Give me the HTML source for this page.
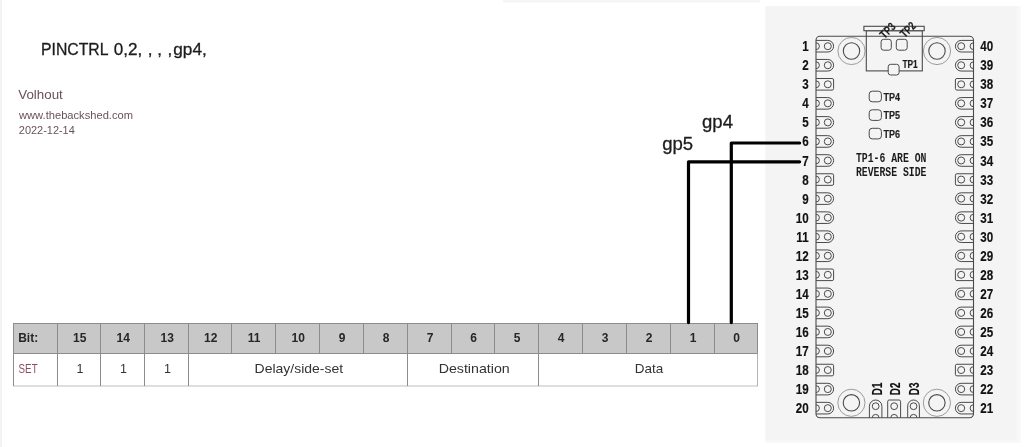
<!DOCTYPE html>
<html><head><meta charset="utf-8"><style>
html,body{margin:0;padding:0;background:#fff;}
body{width:1024px;height:447px;position:relative;overflow:hidden;}
svg{position:absolute;left:0;top:0;will-change:transform;}
text{font-family:"Liberation Sans",sans-serif;}
.t{font-weight:normal;}
.tb{font-size:12px;font-weight:bold;}
.pl{font-size:14px;font-weight:bold;fill:#111;stroke:#111;stroke-width:0.15;}
.pl2{font-size:14px;font-weight:bold;fill:#111;stroke:#111;stroke-width:0.15;}
.tp{font-size:11px;font-weight:bold;fill:#1e1e1e;stroke:#1e1e1e;stroke-width:0.2;}
.mono{font-family:"Liberation Mono",monospace;font-size:12px;font-weight:bold;fill:#1a1a1a;}
</style></head><body>
<svg width="1024" height="447" viewBox="0 0 1024 447">
<rect x="0" y="0" width="2" height="447" fill="#f3f3f3"/>
<rect x="503" y="0" width="257" height="2.5" fill="#f5f5f5"/>
<text x="41" y="55" class="t" style="font-size:17px" fill="#1c1c1c" stroke="#1c1c1c" stroke-width="0.3" textLength="67.5" lengthAdjust="spacingAndGlyphs">PINCTRL</text>
<text x="113.8" y="55" class="t" style="font-size:17px" fill="#1c1c1c" stroke="#1c1c1c" stroke-width="0.3" textLength="28.5" lengthAdjust="spacingAndGlyphs">0,2,</text>
<text x="147.7" y="55" class="t" style="font-size:17px" fill="#1c1c1c" stroke="#1c1c1c" stroke-width="0.3">,</text>
<text x="157.3" y="55" class="t" style="font-size:17px" fill="#1c1c1c" stroke="#1c1c1c" stroke-width="0.3">,</text>
<text x="167.6" y="55" class="t" style="font-size:17px" fill="#1c1c1c" stroke="#1c1c1c" stroke-width="0.3">,</text>
<text x="173.3" y="55" class="t" style="font-size:17px" fill="#1c1c1c" stroke="#1c1c1c" stroke-width="0.3" textLength="33.5" lengthAdjust="spacingAndGlyphs">gp4,</text>
<text x="18.3" y="99" class="t" style="font-size:13px" fill="#6a5258" textLength="44.5" lengthAdjust="spacingAndGlyphs">Volhout</text>
<text x="19" y="119" class="t" style="font-size:11px" fill="#6a5258" textLength="114" lengthAdjust="spacingAndGlyphs">www.thebackshed.com</text>
<text x="18.8" y="134" class="t" style="font-size:11px" fill="#6a5258" textLength="56" lengthAdjust="spacingAndGlyphs">2022-12-14</text>
<text x="702" y="128.3" class="t" style="font-size:18px" fill="#1c1c1c" stroke="#1c1c1c" stroke-width="0.3" textLength="31" lengthAdjust="spacingAndGlyphs">gp4</text>
<text x="662.2" y="150.3" class="t" style="font-size:18px" fill="#1c1c1c" stroke="#1c1c1c" stroke-width="0.3" textLength="31" lengthAdjust="spacingAndGlyphs">gp5</text>
<rect x="13.5" y="323.5" width="744.00" height="30.00" fill="#c8c8c8"/>
<rect x="13.5" y="353.5" width="744.00" height="32.50" fill="#fff"/>
<path d="M13.0 323.5 H758.0" stroke="#8c8c8c" stroke-width="1"/>
<path d="M13.0 353.5 H758.0" stroke="#8c8c8c" stroke-width="1"/>
<path d="M13.0 386.0 H758.0" stroke="#bdbdbd" stroke-width="1"/>
<path d="M13.5 323.5 V353.5" stroke="#8c8c8c" stroke-width="1"/>
<path d="M57.5 323.5 V353.5" stroke="#8c8c8c" stroke-width="1"/>
<path d="M100.5 323.5 V353.5" stroke="#8c8c8c" stroke-width="1"/>
<path d="M144.5 323.5 V353.5" stroke="#8c8c8c" stroke-width="1"/>
<path d="M188.5 323.5 V353.5" stroke="#8c8c8c" stroke-width="1"/>
<path d="M231.5 323.5 V353.5" stroke="#8c8c8c" stroke-width="1"/>
<path d="M275.5 323.5 V353.5" stroke="#8c8c8c" stroke-width="1"/>
<path d="M319.5 323.5 V353.5" stroke="#8c8c8c" stroke-width="1"/>
<path d="M363.5 323.5 V353.5" stroke="#8c8c8c" stroke-width="1"/>
<path d="M407.5 323.5 V353.5" stroke="#8c8c8c" stroke-width="1"/>
<path d="M451.5 323.5 V353.5" stroke="#8c8c8c" stroke-width="1"/>
<path d="M494.5 323.5 V353.5" stroke="#8c8c8c" stroke-width="1"/>
<path d="M538.5 323.5 V353.5" stroke="#8c8c8c" stroke-width="1"/>
<path d="M582.5 323.5 V353.5" stroke="#8c8c8c" stroke-width="1"/>
<path d="M626.5 323.5 V353.5" stroke="#8c8c8c" stroke-width="1"/>
<path d="M670.5 323.5 V353.5" stroke="#8c8c8c" stroke-width="1"/>
<path d="M714.5 323.5 V353.5" stroke="#8c8c8c" stroke-width="1"/>
<path d="M757.5 323.5 V353.5" stroke="#8c8c8c" stroke-width="1"/>
<path d="M13.5 353.5 V386.0" stroke="#8c8c8c" stroke-width="1"/>
<path d="M57.5 353.5 V386.0" stroke="#8c8c8c" stroke-width="1"/>
<path d="M100.5 353.5 V386.0" stroke="#8c8c8c" stroke-width="1"/>
<path d="M144.5 353.5 V386.0" stroke="#8c8c8c" stroke-width="1"/>
<path d="M188.5 353.5 V386.0" stroke="#8c8c8c" stroke-width="1"/>
<path d="M407.5 353.5 V386.0" stroke="#8c8c8c" stroke-width="1"/>
<path d="M538.5 353.5 V386.0" stroke="#8c8c8c" stroke-width="1"/>
<path d="M757.5 353.5 V386.0" stroke="#b4b4b4" stroke-width="1"/>
<text x="18.2" y="342" class="tb" fill="#262626">Bit:</text>
<text x="79.70" y="342" class="tb" fill="#262626" text-anchor="middle">15</text>
<text x="123.20" y="342" class="tb" fill="#262626" text-anchor="middle">14</text>
<text x="167.20" y="342" class="tb" fill="#262626" text-anchor="middle">13</text>
<text x="210.70" y="342" class="tb" fill="#262626" text-anchor="middle">12</text>
<text x="254.20" y="342" class="tb" fill="#262626" text-anchor="middle">11</text>
<text x="298.20" y="342" class="tb" fill="#262626" text-anchor="middle">10</text>
<text x="342.20" y="342" class="tb" fill="#262626" text-anchor="middle">9</text>
<text x="386.20" y="342" class="tb" fill="#262626" text-anchor="middle">8</text>
<text x="430.20" y="342" class="tb" fill="#262626" text-anchor="middle">7</text>
<text x="473.70" y="342" class="tb" fill="#262626" text-anchor="middle">6</text>
<text x="517.20" y="342" class="tb" fill="#262626" text-anchor="middle">5</text>
<text x="561.20" y="342" class="tb" fill="#262626" text-anchor="middle">4</text>
<text x="605.20" y="342" class="tb" fill="#262626" text-anchor="middle">3</text>
<text x="649.20" y="342" class="tb" fill="#262626" text-anchor="middle">2</text>
<text x="693.20" y="342" class="tb" fill="#262626" text-anchor="middle">1</text>
<text x="736.70" y="342" class="tb" fill="#262626" text-anchor="middle">0</text>
<text x="18.6" y="373" class="t" style="font-size:12.5px" fill="#8c4c61" textLength="19" lengthAdjust="spacingAndGlyphs">SET</text>
<text x="80.00" y="373" class="t" style="font-size:12.5px" fill="#333" text-anchor="middle">1</text>
<text x="123.50" y="373" class="t" style="font-size:12.5px" fill="#333" text-anchor="middle">1</text>
<text x="167.50" y="373" class="t" style="font-size:12.5px" fill="#333" text-anchor="middle">1</text>
<text x="254.6" y="373" class="t" style="font-size:13px" fill="#333" textLength="88.5" lengthAdjust="spacingAndGlyphs">Delay/side-set</text>
<text x="438.7" y="373" class="t" style="font-size:13px" fill="#333" textLength="71" lengthAdjust="spacingAndGlyphs">Destination</text>
<text x="634.8" y="373" class="t" style="font-size:13px" fill="#333" textLength="28.5" lengthAdjust="spacingAndGlyphs">Data</text>
<rect x="765.5" y="6" width="255" height="437" fill="#f8f8f8"/>
<rect x="765.5" y="6" width="251" height="434.5" fill="#f4f4f4"/>
<rect x="816.0" y="36.2" width="157.5" height="381.6" rx="4" fill="none" stroke="#4a4a4a" stroke-width="1.1"/>
<path d="M816.0 40.40 H827.80 A5.8 5.8 0 0 1 827.80 52.00 H816.0" fill="none" stroke="#4a4a4a" stroke-width="1"/>
<circle cx="827.80" cy="46.20" r="3.5" fill="none" stroke="#4a4a4a" stroke-width="1"/>
<path d="M816.0 42.80 A3.4 3.4 0 0 1 816.0 49.60" fill="none" stroke="#4a4a4a" stroke-width="1"/>
<path d="M973.5 40.40 H961.20 A5.8 5.8 0 0 0 961.20 52.00 H973.5" fill="none" stroke="#4a4a4a" stroke-width="1"/>
<circle cx="961.20" cy="46.20" r="3.5" fill="none" stroke="#4a4a4a" stroke-width="1"/>
<path d="M973.5 42.80 A3.4 3.4 0 0 0 973.5 49.60" fill="none" stroke="#4a4a4a" stroke-width="1"/>
<text x="0" y="0" class="pl" text-anchor="end" transform="translate(808.6 51.20) scale(0.83 1)">1</text>
<text x="0" y="0" class="pl" transform="translate(980.2 51.20) scale(0.83 1)">40</text>
<path d="M816.0 59.45 H827.80 A5.8 5.8 0 0 1 827.80 71.05 H816.0" fill="none" stroke="#4a4a4a" stroke-width="1"/>
<circle cx="827.80" cy="65.25" r="3.5" fill="none" stroke="#4a4a4a" stroke-width="1"/>
<path d="M816.0 61.85 A3.4 3.4 0 0 1 816.0 68.65" fill="none" stroke="#4a4a4a" stroke-width="1"/>
<path d="M973.5 59.45 H961.20 A5.8 5.8 0 0 0 961.20 71.05 H973.5" fill="none" stroke="#4a4a4a" stroke-width="1"/>
<circle cx="961.20" cy="65.25" r="3.5" fill="none" stroke="#4a4a4a" stroke-width="1"/>
<path d="M973.5 61.85 A3.4 3.4 0 0 0 973.5 68.65" fill="none" stroke="#4a4a4a" stroke-width="1"/>
<text x="0" y="0" class="pl" text-anchor="end" transform="translate(808.6 70.25) scale(0.83 1)">2</text>
<text x="0" y="0" class="pl" transform="translate(980.2 70.25) scale(0.83 1)">39</text>
<path d="M816.0 78.50 H832.10 Q833.6 78.50 833.6 80.00 V88.60 Q833.6 90.10 832.10 90.10 H816.0" fill="none" stroke="#4a4a4a" stroke-width="1"/>
<circle cx="827.80" cy="84.30" r="3.5" fill="none" stroke="#4a4a4a" stroke-width="1"/>
<path d="M816.0 80.90 A3.4 3.4 0 0 1 816.0 87.70" fill="none" stroke="#4a4a4a" stroke-width="1"/>
<path d="M973.5 78.50 H956.90 Q955.4 78.50 955.4 80.00 V88.60 Q955.4 90.10 956.90 90.10 H973.5" fill="none" stroke="#4a4a4a" stroke-width="1"/>
<circle cx="961.20" cy="84.30" r="3.5" fill="none" stroke="#4a4a4a" stroke-width="1"/>
<path d="M973.5 80.90 A3.4 3.4 0 0 0 973.5 87.70" fill="none" stroke="#4a4a4a" stroke-width="1"/>
<text x="0" y="0" class="pl" text-anchor="end" transform="translate(808.6 89.30) scale(0.83 1)">3</text>
<text x="0" y="0" class="pl" transform="translate(980.2 89.30) scale(0.83 1)">38</text>
<path d="M816.0 97.55 H827.80 A5.8 5.8 0 0 1 827.80 109.15 H816.0" fill="none" stroke="#4a4a4a" stroke-width="1"/>
<circle cx="827.80" cy="103.35" r="3.5" fill="none" stroke="#4a4a4a" stroke-width="1"/>
<path d="M816.0 99.95 A3.4 3.4 0 0 1 816.0 106.75" fill="none" stroke="#4a4a4a" stroke-width="1"/>
<path d="M973.5 97.55 H961.20 A5.8 5.8 0 0 0 961.20 109.15 H973.5" fill="none" stroke="#4a4a4a" stroke-width="1"/>
<circle cx="961.20" cy="103.35" r="3.5" fill="none" stroke="#4a4a4a" stroke-width="1"/>
<path d="M973.5 99.95 A3.4 3.4 0 0 0 973.5 106.75" fill="none" stroke="#4a4a4a" stroke-width="1"/>
<text x="0" y="0" class="pl" text-anchor="end" transform="translate(808.6 108.35) scale(0.83 1)">4</text>
<text x="0" y="0" class="pl" transform="translate(980.2 108.35) scale(0.83 1)">37</text>
<path d="M816.0 116.60 H827.80 A5.8 5.8 0 0 1 827.80 128.20 H816.0" fill="none" stroke="#4a4a4a" stroke-width="1"/>
<circle cx="827.80" cy="122.40" r="3.5" fill="none" stroke="#4a4a4a" stroke-width="1"/>
<path d="M816.0 119.00 A3.4 3.4 0 0 1 816.0 125.80" fill="none" stroke="#4a4a4a" stroke-width="1"/>
<path d="M973.5 116.60 H961.20 A5.8 5.8 0 0 0 961.20 128.20 H973.5" fill="none" stroke="#4a4a4a" stroke-width="1"/>
<circle cx="961.20" cy="122.40" r="3.5" fill="none" stroke="#4a4a4a" stroke-width="1"/>
<path d="M973.5 119.00 A3.4 3.4 0 0 0 973.5 125.80" fill="none" stroke="#4a4a4a" stroke-width="1"/>
<text x="0" y="0" class="pl" text-anchor="end" transform="translate(808.6 127.40) scale(0.83 1)">5</text>
<text x="0" y="0" class="pl" transform="translate(980.2 127.40) scale(0.83 1)">36</text>
<path d="M816.0 135.65 H827.80 A5.8 5.8 0 0 1 827.80 147.25 H816.0" fill="none" stroke="#4a4a4a" stroke-width="1"/>
<circle cx="827.80" cy="141.45" r="3.5" fill="none" stroke="#4a4a4a" stroke-width="1"/>
<path d="M816.0 138.05 A3.4 3.4 0 0 1 816.0 144.85" fill="none" stroke="#4a4a4a" stroke-width="1"/>
<path d="M973.5 135.65 H961.20 A5.8 5.8 0 0 0 961.20 147.25 H973.5" fill="none" stroke="#4a4a4a" stroke-width="1"/>
<circle cx="961.20" cy="141.45" r="3.5" fill="none" stroke="#4a4a4a" stroke-width="1"/>
<path d="M973.5 138.05 A3.4 3.4 0 0 0 973.5 144.85" fill="none" stroke="#4a4a4a" stroke-width="1"/>
<text x="0" y="0" class="pl" text-anchor="end" transform="translate(808.6 146.45) scale(0.83 1)">6</text>
<text x="0" y="0" class="pl" transform="translate(980.2 146.45) scale(0.83 1)">35</text>
<path d="M816.0 154.70 H827.80 A5.8 5.8 0 0 1 827.80 166.30 H816.0" fill="none" stroke="#4a4a4a" stroke-width="1"/>
<circle cx="827.80" cy="160.50" r="3.5" fill="none" stroke="#4a4a4a" stroke-width="1"/>
<path d="M816.0 157.10 A3.4 3.4 0 0 1 816.0 163.90" fill="none" stroke="#4a4a4a" stroke-width="1"/>
<path d="M973.5 154.70 H961.20 A5.8 5.8 0 0 0 961.20 166.30 H973.5" fill="none" stroke="#4a4a4a" stroke-width="1"/>
<circle cx="961.20" cy="160.50" r="3.5" fill="none" stroke="#4a4a4a" stroke-width="1"/>
<path d="M973.5 157.10 A3.4 3.4 0 0 0 973.5 163.90" fill="none" stroke="#4a4a4a" stroke-width="1"/>
<text x="0" y="0" class="pl" text-anchor="end" transform="translate(808.6 165.50) scale(0.83 1)">7</text>
<text x="0" y="0" class="pl" transform="translate(980.2 165.50) scale(0.83 1)">34</text>
<path d="M816.0 173.75 H832.10 Q833.6 173.75 833.6 175.25 V183.85 Q833.6 185.35 832.10 185.35 H816.0" fill="none" stroke="#4a4a4a" stroke-width="1"/>
<circle cx="827.80" cy="179.55" r="3.5" fill="none" stroke="#4a4a4a" stroke-width="1"/>
<path d="M816.0 176.15 A3.4 3.4 0 0 1 816.0 182.95" fill="none" stroke="#4a4a4a" stroke-width="1"/>
<path d="M973.5 173.75 H956.90 Q955.4 173.75 955.4 175.25 V183.85 Q955.4 185.35 956.90 185.35 H973.5" fill="none" stroke="#4a4a4a" stroke-width="1"/>
<circle cx="961.20" cy="179.55" r="3.5" fill="none" stroke="#4a4a4a" stroke-width="1"/>
<path d="M973.5 176.15 A3.4 3.4 0 0 0 973.5 182.95" fill="none" stroke="#4a4a4a" stroke-width="1"/>
<text x="0" y="0" class="pl" text-anchor="end" transform="translate(808.6 184.55) scale(0.83 1)">8</text>
<text x="0" y="0" class="pl" transform="translate(980.2 184.55) scale(0.83 1)">33</text>
<path d="M816.0 192.80 H827.80 A5.8 5.8 0 0 1 827.80 204.40 H816.0" fill="none" stroke="#4a4a4a" stroke-width="1"/>
<circle cx="827.80" cy="198.60" r="3.5" fill="none" stroke="#4a4a4a" stroke-width="1"/>
<path d="M816.0 195.20 A3.4 3.4 0 0 1 816.0 202.00" fill="none" stroke="#4a4a4a" stroke-width="1"/>
<path d="M973.5 192.80 H961.20 A5.8 5.8 0 0 0 961.20 204.40 H973.5" fill="none" stroke="#4a4a4a" stroke-width="1"/>
<circle cx="961.20" cy="198.60" r="3.5" fill="none" stroke="#4a4a4a" stroke-width="1"/>
<path d="M973.5 195.20 A3.4 3.4 0 0 0 973.5 202.00" fill="none" stroke="#4a4a4a" stroke-width="1"/>
<text x="0" y="0" class="pl" text-anchor="end" transform="translate(808.6 203.60) scale(0.83 1)">9</text>
<text x="0" y="0" class="pl" transform="translate(980.2 203.60) scale(0.83 1)">32</text>
<path d="M816.0 211.85 H827.80 A5.8 5.8 0 0 1 827.80 223.45 H816.0" fill="none" stroke="#4a4a4a" stroke-width="1"/>
<circle cx="827.80" cy="217.65" r="3.5" fill="none" stroke="#4a4a4a" stroke-width="1"/>
<path d="M816.0 214.25 A3.4 3.4 0 0 1 816.0 221.05" fill="none" stroke="#4a4a4a" stroke-width="1"/>
<path d="M973.5 211.85 H961.20 A5.8 5.8 0 0 0 961.20 223.45 H973.5" fill="none" stroke="#4a4a4a" stroke-width="1"/>
<circle cx="961.20" cy="217.65" r="3.5" fill="none" stroke="#4a4a4a" stroke-width="1"/>
<path d="M973.5 214.25 A3.4 3.4 0 0 0 973.5 221.05" fill="none" stroke="#4a4a4a" stroke-width="1"/>
<text x="0" y="0" class="pl" text-anchor="end" transform="translate(808.6 222.65) scale(0.83 1)">10</text>
<text x="0" y="0" class="pl" transform="translate(980.2 222.65) scale(0.83 1)">31</text>
<path d="M816.0 230.90 H827.80 A5.8 5.8 0 0 1 827.80 242.50 H816.0" fill="none" stroke="#4a4a4a" stroke-width="1"/>
<circle cx="827.80" cy="236.70" r="3.5" fill="none" stroke="#4a4a4a" stroke-width="1"/>
<path d="M816.0 233.30 A3.4 3.4 0 0 1 816.0 240.10" fill="none" stroke="#4a4a4a" stroke-width="1"/>
<path d="M973.5 230.90 H961.20 A5.8 5.8 0 0 0 961.20 242.50 H973.5" fill="none" stroke="#4a4a4a" stroke-width="1"/>
<circle cx="961.20" cy="236.70" r="3.5" fill="none" stroke="#4a4a4a" stroke-width="1"/>
<path d="M973.5 233.30 A3.4 3.4 0 0 0 973.5 240.10" fill="none" stroke="#4a4a4a" stroke-width="1"/>
<text x="0" y="0" class="pl" text-anchor="end" transform="translate(808.6 241.70) scale(0.83 1)">11</text>
<text x="0" y="0" class="pl" transform="translate(980.2 241.70) scale(0.83 1)">30</text>
<path d="M816.0 249.95 H827.80 A5.8 5.8 0 0 1 827.80 261.55 H816.0" fill="none" stroke="#4a4a4a" stroke-width="1"/>
<circle cx="827.80" cy="255.75" r="3.5" fill="none" stroke="#4a4a4a" stroke-width="1"/>
<path d="M816.0 252.35 A3.4 3.4 0 0 1 816.0 259.15" fill="none" stroke="#4a4a4a" stroke-width="1"/>
<path d="M973.5 249.95 H961.20 A5.8 5.8 0 0 0 961.20 261.55 H973.5" fill="none" stroke="#4a4a4a" stroke-width="1"/>
<circle cx="961.20" cy="255.75" r="3.5" fill="none" stroke="#4a4a4a" stroke-width="1"/>
<path d="M973.5 252.35 A3.4 3.4 0 0 0 973.5 259.15" fill="none" stroke="#4a4a4a" stroke-width="1"/>
<text x="0" y="0" class="pl" text-anchor="end" transform="translate(808.6 260.75) scale(0.83 1)">12</text>
<text x="0" y="0" class="pl" transform="translate(980.2 260.75) scale(0.83 1)">29</text>
<path d="M816.0 269.00 H832.10 Q833.6 269.00 833.6 270.50 V279.10 Q833.6 280.60 832.10 280.60 H816.0" fill="none" stroke="#4a4a4a" stroke-width="1"/>
<circle cx="827.80" cy="274.80" r="3.5" fill="none" stroke="#4a4a4a" stroke-width="1"/>
<path d="M816.0 271.40 A3.4 3.4 0 0 1 816.0 278.20" fill="none" stroke="#4a4a4a" stroke-width="1"/>
<path d="M973.5 269.00 H956.90 Q955.4 269.00 955.4 270.50 V279.10 Q955.4 280.60 956.90 280.60 H973.5" fill="none" stroke="#4a4a4a" stroke-width="1"/>
<circle cx="961.20" cy="274.80" r="3.5" fill="none" stroke="#4a4a4a" stroke-width="1"/>
<path d="M973.5 271.40 A3.4 3.4 0 0 0 973.5 278.20" fill="none" stroke="#4a4a4a" stroke-width="1"/>
<text x="0" y="0" class="pl" text-anchor="end" transform="translate(808.6 279.80) scale(0.83 1)">13</text>
<text x="0" y="0" class="pl" transform="translate(980.2 279.80) scale(0.83 1)">28</text>
<path d="M816.0 288.05 H827.80 A5.8 5.8 0 0 1 827.80 299.65 H816.0" fill="none" stroke="#4a4a4a" stroke-width="1"/>
<circle cx="827.80" cy="293.85" r="3.5" fill="none" stroke="#4a4a4a" stroke-width="1"/>
<path d="M816.0 290.45 A3.4 3.4 0 0 1 816.0 297.25" fill="none" stroke="#4a4a4a" stroke-width="1"/>
<path d="M973.5 288.05 H961.20 A5.8 5.8 0 0 0 961.20 299.65 H973.5" fill="none" stroke="#4a4a4a" stroke-width="1"/>
<circle cx="961.20" cy="293.85" r="3.5" fill="none" stroke="#4a4a4a" stroke-width="1"/>
<path d="M973.5 290.45 A3.4 3.4 0 0 0 973.5 297.25" fill="none" stroke="#4a4a4a" stroke-width="1"/>
<text x="0" y="0" class="pl" text-anchor="end" transform="translate(808.6 298.85) scale(0.83 1)">14</text>
<text x="0" y="0" class="pl" transform="translate(980.2 298.85) scale(0.83 1)">27</text>
<path d="M816.0 307.10 H827.80 A5.8 5.8 0 0 1 827.80 318.70 H816.0" fill="none" stroke="#4a4a4a" stroke-width="1"/>
<circle cx="827.80" cy="312.90" r="3.5" fill="none" stroke="#4a4a4a" stroke-width="1"/>
<path d="M816.0 309.50 A3.4 3.4 0 0 1 816.0 316.30" fill="none" stroke="#4a4a4a" stroke-width="1"/>
<path d="M973.5 307.10 H961.20 A5.8 5.8 0 0 0 961.20 318.70 H973.5" fill="none" stroke="#4a4a4a" stroke-width="1"/>
<circle cx="961.20" cy="312.90" r="3.5" fill="none" stroke="#4a4a4a" stroke-width="1"/>
<path d="M973.5 309.50 A3.4 3.4 0 0 0 973.5 316.30" fill="none" stroke="#4a4a4a" stroke-width="1"/>
<text x="0" y="0" class="pl" text-anchor="end" transform="translate(808.6 317.90) scale(0.83 1)">15</text>
<text x="0" y="0" class="pl" transform="translate(980.2 317.90) scale(0.83 1)">26</text>
<path d="M816.0 326.15 H827.80 A5.8 5.8 0 0 1 827.80 337.75 H816.0" fill="none" stroke="#4a4a4a" stroke-width="1"/>
<circle cx="827.80" cy="331.95" r="3.5" fill="none" stroke="#4a4a4a" stroke-width="1"/>
<path d="M816.0 328.55 A3.4 3.4 0 0 1 816.0 335.35" fill="none" stroke="#4a4a4a" stroke-width="1"/>
<path d="M973.5 326.15 H961.20 A5.8 5.8 0 0 0 961.20 337.75 H973.5" fill="none" stroke="#4a4a4a" stroke-width="1"/>
<circle cx="961.20" cy="331.95" r="3.5" fill="none" stroke="#4a4a4a" stroke-width="1"/>
<path d="M973.5 328.55 A3.4 3.4 0 0 0 973.5 335.35" fill="none" stroke="#4a4a4a" stroke-width="1"/>
<text x="0" y="0" class="pl" text-anchor="end" transform="translate(808.6 336.95) scale(0.83 1)">16</text>
<text x="0" y="0" class="pl" transform="translate(980.2 336.95) scale(0.83 1)">25</text>
<path d="M816.0 345.20 H827.80 A5.8 5.8 0 0 1 827.80 356.80 H816.0" fill="none" stroke="#4a4a4a" stroke-width="1"/>
<circle cx="827.80" cy="351.00" r="3.5" fill="none" stroke="#4a4a4a" stroke-width="1"/>
<path d="M816.0 347.60 A3.4 3.4 0 0 1 816.0 354.40" fill="none" stroke="#4a4a4a" stroke-width="1"/>
<path d="M973.5 345.20 H961.20 A5.8 5.8 0 0 0 961.20 356.80 H973.5" fill="none" stroke="#4a4a4a" stroke-width="1"/>
<circle cx="961.20" cy="351.00" r="3.5" fill="none" stroke="#4a4a4a" stroke-width="1"/>
<path d="M973.5 347.60 A3.4 3.4 0 0 0 973.5 354.40" fill="none" stroke="#4a4a4a" stroke-width="1"/>
<text x="0" y="0" class="pl" text-anchor="end" transform="translate(808.6 356.00) scale(0.83 1)">17</text>
<text x="0" y="0" class="pl" transform="translate(980.2 356.00) scale(0.83 1)">24</text>
<path d="M816.0 364.25 H832.10 Q833.6 364.25 833.6 365.75 V374.35 Q833.6 375.85 832.10 375.85 H816.0" fill="none" stroke="#4a4a4a" stroke-width="1"/>
<circle cx="827.80" cy="370.05" r="3.5" fill="none" stroke="#4a4a4a" stroke-width="1"/>
<path d="M816.0 366.65 A3.4 3.4 0 0 1 816.0 373.45" fill="none" stroke="#4a4a4a" stroke-width="1"/>
<path d="M973.5 364.25 H956.90 Q955.4 364.25 955.4 365.75 V374.35 Q955.4 375.85 956.90 375.85 H973.5" fill="none" stroke="#4a4a4a" stroke-width="1"/>
<circle cx="961.20" cy="370.05" r="3.5" fill="none" stroke="#4a4a4a" stroke-width="1"/>
<path d="M973.5 366.65 A3.4 3.4 0 0 0 973.5 373.45" fill="none" stroke="#4a4a4a" stroke-width="1"/>
<text x="0" y="0" class="pl" text-anchor="end" transform="translate(808.6 375.05) scale(0.83 1)">18</text>
<text x="0" y="0" class="pl" transform="translate(980.2 375.05) scale(0.83 1)">23</text>
<path d="M816.0 383.30 H827.80 A5.8 5.8 0 0 1 827.80 394.90 H816.0" fill="none" stroke="#4a4a4a" stroke-width="1"/>
<circle cx="827.80" cy="389.10" r="3.5" fill="none" stroke="#4a4a4a" stroke-width="1"/>
<path d="M816.0 385.70 A3.4 3.4 0 0 1 816.0 392.50" fill="none" stroke="#4a4a4a" stroke-width="1"/>
<path d="M973.5 383.30 H961.20 A5.8 5.8 0 0 0 961.20 394.90 H973.5" fill="none" stroke="#4a4a4a" stroke-width="1"/>
<circle cx="961.20" cy="389.10" r="3.5" fill="none" stroke="#4a4a4a" stroke-width="1"/>
<path d="M973.5 385.70 A3.4 3.4 0 0 0 973.5 392.50" fill="none" stroke="#4a4a4a" stroke-width="1"/>
<text x="0" y="0" class="pl" text-anchor="end" transform="translate(808.6 394.10) scale(0.83 1)">19</text>
<text x="0" y="0" class="pl" transform="translate(980.2 394.10) scale(0.83 1)">22</text>
<path d="M816.0 402.35 H827.80 A5.8 5.8 0 0 1 827.80 413.95 H816.0" fill="none" stroke="#4a4a4a" stroke-width="1"/>
<circle cx="827.80" cy="408.15" r="3.5" fill="none" stroke="#4a4a4a" stroke-width="1"/>
<path d="M816.0 404.75 A3.4 3.4 0 0 1 816.0 411.55" fill="none" stroke="#4a4a4a" stroke-width="1"/>
<path d="M973.5 402.35 H961.20 A5.8 5.8 0 0 0 961.20 413.95 H973.5" fill="none" stroke="#4a4a4a" stroke-width="1"/>
<circle cx="961.20" cy="408.15" r="3.5" fill="none" stroke="#4a4a4a" stroke-width="1"/>
<path d="M973.5 404.75 A3.4 3.4 0 0 0 973.5 411.55" fill="none" stroke="#4a4a4a" stroke-width="1"/>
<text x="0" y="0" class="pl" text-anchor="end" transform="translate(808.6 413.15) scale(0.83 1)">20</text>
<text x="0" y="0" class="pl" transform="translate(980.2 413.15) scale(0.83 1)">21</text>
<circle cx="851.5" cy="51.0" r="13.6" fill="none" stroke="#9c9c9c" stroke-width="1"/>
<circle cx="851.5" cy="51.0" r="8.2" fill="none" stroke="#4a4a4a" stroke-width="1.1"/>
<circle cx="937.0" cy="51.0" r="13.6" fill="none" stroke="#9c9c9c" stroke-width="1"/>
<circle cx="937.0" cy="51.0" r="8.2" fill="none" stroke="#4a4a4a" stroke-width="1.1"/>
<circle cx="851.4" cy="402.8" r="13.6" fill="none" stroke="#9c9c9c" stroke-width="1"/>
<circle cx="851.4" cy="402.8" r="8.2" fill="none" stroke="#4a4a4a" stroke-width="1.1"/>
<circle cx="936.9" cy="402.8" r="13.6" fill="none" stroke="#9c9c9c" stroke-width="1"/>
<circle cx="936.9" cy="402.8" r="8.2" fill="none" stroke="#4a4a4a" stroke-width="1.1"/>
<rect x="866.3" y="30.7" width="56" height="40.2" fill="none" stroke="#4a4a4a" stroke-width="1.1"/>
<rect x="863.9" y="26.3" width="60.3" height="4.4" fill="#f4f4f4" stroke="#4a4a4a" stroke-width="1.1"/>
<rect x="881.1" y="39.3" width="10.2" height="10.9" rx="2.5" fill="none" stroke="#4a4a4a" stroke-width="1"/>
<rect x="896.3" y="39.3" width="10.9" height="10.9" rx="2.5" fill="none" stroke="#4a4a4a" stroke-width="1"/>
<rect x="888.2" y="64.3" width="10.9" height="10.7" rx="2.5" fill="#f4f4f4" stroke="#4a4a4a" stroke-width="1"/>
<text x="902.4" y="68" class="tp" textLength="15.3" lengthAdjust="spacingAndGlyphs">TP1</text>
<text x="0" y="0" class="tp" style="font-size:11.8px" textLength="16.5" lengthAdjust="spacingAndGlyphs" transform="translate(884.6 39.2) rotate(-45)">TP3</text>
<text x="0" y="0" class="tp" style="font-size:11.8px" textLength="16.5" lengthAdjust="spacingAndGlyphs" transform="translate(904.8 38.3) rotate(-45)">TP2</text>
<rect x="869.2" y="91.2" width="12.2" height="10.6" rx="3" fill="none" stroke="#4a4a4a" stroke-width="1"/>
<text x="883.4" y="100.8" class="tp" style="font-size:11.8px" textLength="16.5" lengthAdjust="spacingAndGlyphs">TP4</text>
<rect x="869.2" y="109.8" width="12.2" height="10.6" rx="3" fill="none" stroke="#4a4a4a" stroke-width="1"/>
<text x="883.4" y="119.4" class="tp" style="font-size:11.8px" textLength="16.5" lengthAdjust="spacingAndGlyphs">TP5</text>
<rect x="869.2" y="128.3" width="12.2" height="10.6" rx="3" fill="none" stroke="#4a4a4a" stroke-width="1"/>
<text x="883.4" y="137.9" class="tp" style="font-size:11.8px" textLength="16.5" lengthAdjust="spacingAndGlyphs">TP6</text>
<text x="856.0" y="161.6" class="mono" textLength="70.4" lengthAdjust="spacingAndGlyphs">TP1-6 ARE ON</text>
<text x="856.0" y="176.1" class="mono" textLength="70.4" lengthAdjust="spacingAndGlyphs">REVERSE SIDE</text>
<path d="M869.4 417.8 V406.25 A6.25 6.25 0 0 1 881.9 406.25 V417.8" fill="none" stroke="#4a4a4a" stroke-width="1"/>
<circle cx="875.65" cy="406.2" r="3.4" fill="none" stroke="#4a4a4a" stroke-width="1"/>
<path d="M872.25 417.8 A3.4 3.4 0 0 1 879.05 417.8" fill="none" stroke="#4a4a4a" stroke-width="1"/>
<text x="0" y="0" class="pl2" textLength="12.6" lengthAdjust="spacingAndGlyphs" transform="translate(881.55 395.2) rotate(-90)">D1</text>
<path d="M887.7 417.8 V401.5 Q887.7 400 889.2 400 H899.1 Q900.6 400 900.6 401.5 V417.8" fill="none" stroke="#4a4a4a" stroke-width="1"/>
<circle cx="894.15" cy="406.2" r="3.4" fill="none" stroke="#4a4a4a" stroke-width="1"/>
<path d="M890.75 417.8 A3.4 3.4 0 0 1 897.55 417.8" fill="none" stroke="#4a4a4a" stroke-width="1"/>
<text x="0" y="0" class="pl2" textLength="12.6" lengthAdjust="spacingAndGlyphs" transform="translate(900.05 395.2) rotate(-90)">D2</text>
<path d="M907.7 417.8 V405.85 A5.85 5.85 0 0 1 919.4 405.85 V417.8" fill="none" stroke="#4a4a4a" stroke-width="1"/>
<circle cx="913.55" cy="406.2" r="3.4" fill="none" stroke="#4a4a4a" stroke-width="1"/>
<path d="M910.15 417.8 A3.4 3.4 0 0 1 916.95 417.8" fill="none" stroke="#4a4a4a" stroke-width="1"/>
<text x="0" y="0" class="pl2" textLength="12.6" lengthAdjust="spacingAndGlyphs" transform="translate(919.45 395.2) rotate(-90)">D3</text>
<path d="M731.3 322.6 V143 H799.6" fill="none" stroke="#000" stroke-width="3.2" stroke-linecap="round" stroke-linejoin="round"/>
<path d="M688.5 322.6 V161.8 H799.6" fill="none" stroke="#000" stroke-width="3.2" stroke-linecap="round" stroke-linejoin="round"/>
</svg>
</body></html>
